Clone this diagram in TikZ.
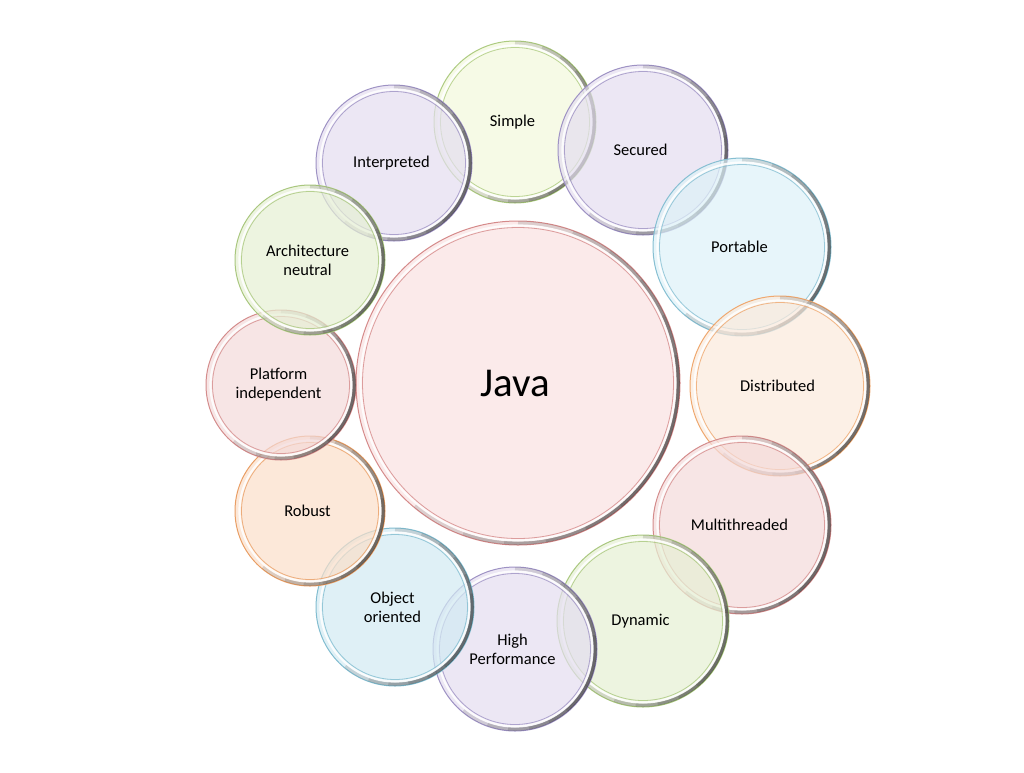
\documentclass[tikz,border=0pt]{standalone}
\usepackage{fontspec}
\setmainfont{Carlito}
\definecolor{fJava}{HTML}{FAE2E2}\definecolor{bJava}{HTML}{D58A8A}
\definecolor{fLav}{HTML}{E4DEF0}\definecolor{bLav}{HTML}{9E92C4}
\definecolor{fYel}{HTML}{F3F8DC}\definecolor{bYel}{HTML}{ADCB80}
\definecolor{fGrn}{HTML}{E6F0D4}\definecolor{bGrn}{HTML}{A9C77E}
\definecolor{fCyan}{HTML}{DDF2F8}\definecolor{bCyan}{HTML}{86BFD2}
\definecolor{fBlue}{HTML}{D2EAF3}\definecolor{bBlue}{HTML}{82BDD0}
\definecolor{fPeach}{HTML}{FCEADC}\definecolor{bPeach}{HTML}{EFA86F}
\definecolor{fOra}{HTML}{FBDFC9}\definecolor{bOra}{HTML}{E99E64}
\definecolor{fPink}{HTML}{F4DADA}\definecolor{bPink}{HTML}{D48C8C}
\tikzset{
  bub/.style={circle, inner sep=0pt, align=center, line width=1pt, fill opacity=.7, text opacity=1, font=\fontsize{16.5}{19}\selectfont},
  rim/.style={draw=black, line width=3.5pt, opacity=.12, line cap=butt},
}
\newcommand\rimarc[4]{% node, radius, start, end
  \draw[rim] ([shift={(#3:{#2})}]#1.center) arc[start angle=#3, end angle=#4, radius={#2}];}
\newcommand\bub[7]{%
  \node[bub, minimum size={2*#4}, fill=#5, draw=#6] (#1) at (#2,#3) {#7};
  \rimarc{#1}{#4-2}{-90}{130}
  \rimarc{#1}{#4-2}{-70}{110}
  \rimarc{#1}{#4-2}{-55}{95}
  \rimarc{#1}{#4-2}{-40}{80}
  \rimarc{#1}{#4-2}{-25}{65}
  \rimarc{#1}{#4-2}{-10}{50}
  \draw[white, line width=2.2pt, opacity=.85] (#1.center) circle[radius={#4-4.5}];
  \draw[#6, line width=.8pt, opacity=.8] (#1.center) circle[radius={#4-6.5}];
}
\begin{document}
\begin{tikzpicture}[x=1pt,y=-1pt]
\useasboundingbox (0,0) rectangle (1024,772);
\fill[white] (0,0) rectangle (1024,772);
\bub{java}{518}{383}{162}{fJava}{bJava}{\fontsize{41}{46}\selectfont Java\hspace*{6pt}}
\bub{simple}{515}{122}{81}{fYel}{bYel}{Simple\hspace*{5pt}}
\bub{interp}{394}{163}{78}{fLav}{bLav}{Interpreted\hspace*{5pt}}
\bub{secured}{643}{150}{85}{fLav}{bLav}{Secured\hspace*{5pt}}
\bub{portable}{742}{247}{89}{fCyan}{bCyan}{Portable\hspace*{5pt}}
\bub{distrib}{780}{386}{90}{fPeach}{bPeach}{Distributed\hspace*{5pt}}
\bub{multi}{742}{525}{89}{fPink}{bPink}{Multithreaded\hspace*{5pt}}
\bub{dynamic}{643}{621}{86}{fGrn}{bGrn}{Dynamic\hspace*{5pt}}
\bub{highperf}{515}{649}{82}{fLav}{bLav}{High\hspace*{5pt}\\Performance\hspace*{5pt}}
\bub{object}{395}{607}{79}{fBlue}{bBlue}{Object\hspace*{5pt}\\oriented\hspace*{5pt}}
\bub{robust}{310}{511}{75}{fOra}{bOra}{Robust\hspace*{5pt}}
\bub{platform}{281}{385}{75}{fPink}{bPink}{Platform\hspace*{5pt}\\independent\hspace*{5pt}}
\bub{arch}{310}{260}{75}{fGrn}{bGrn}{Architecture\hspace*{5pt}\\neutral\hspace*{5pt}}
\end{tikzpicture}
\end{document}
